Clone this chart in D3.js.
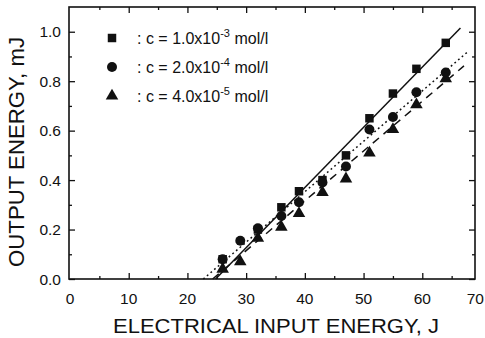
<!DOCTYPE html>
<html>
<head>
<meta charset="utf-8">
<script src="https://cdn.jsdelivr.net/npm/d3@7"></script>
<style>
  body { margin: 0; background: #fff; }
  svg text { font-family: "Liberation Sans", Arial, sans-serif; fill: #111; }
</style>
</head>
<body>
<div id="chart"></div>
<script>
// input energy (J) at which each pulse was measured
const inputEnergy = [26, 29, 32, 36, 39, 43, 47, 51, 55, 59, 64];

// output energy (mJ) for each dye concentration, null = not visible
const conc1e3 = [0.08, null, 0.20, 0.29, 0.355, 0.40, 0.50, 0.65, 0.75, 0.85, 0.955];
const conc2e4 = [0.08, 0.155, 0.205, 0.255, 0.31, 0.39, 0.455, 0.605, 0.655, 0.755, 0.835];
const conc4e5 = [0.04, 0.07, 0.165, 0.21, 0.265, 0.35, 0.405, 0.51, 0.605, 0.705, 0.81];

// linear fits, given as [x, y] end points
const fit1e3 = [[24.8, 0], [66.5, 1.015]];
const fit2e4 = [[22.7, 0], [67.9, 0.922]];
const fit4e5 = [[24.3, 0], [67.1, 0.862]];

const legendLabels = [
  { base: ': c = 1.0x10', exp: '-3', unit: ' mol/l' },
  { base: ': c = 2.0x10', exp: '-4', unit: ' mol/l' },
  { base: ': c = 4.0x10', exp: '-5', unit: ' mol/l' }
];

const xTicks = [0, 10, 20, 30, 40, 50, 60, 70];
const yTicks = [0, 0.2, 0.4, 0.6, 0.8, 1.0];

const width = 485, height = 338;
const margin = { top: 7, right: 10, bottom: 59, left: 69 };

const svg = d3.select('#chart').append('svg')
  .attr('width', width)
  .attr('height', height);

const x = d3.scaleLinear().domain([0, 70]).range([70, 481]);
const y = d3.scaleLinear().domain([0, 1.1]).range([height - margin.bottom, margin.top]);

const x0 = margin.left, x1 = width - margin.right;
const y0 = height - margin.bottom, y1 = margin.top;

// ticks, all pointing inward
function tickAxis(axis, pos, values, size) {
  svg.append('g')
    .attr('transform', pos)
    .call(axis.tickValues(values).tickSize(size).tickFormat(''))
    .call(g => g.select('.domain').remove())
    .call(g => g.selectAll('line').attr('stroke', '#111').attr('stroke-width', 1.3));
}
const xMinor = d3.range(5, 70, 10);
const yMinor = d3.range(0.1, 1.1, 0.2);
const xMajor = xTicks.filter(v => v > 0 && v < 70);

tickAxis(d3.axisTop(x), `translate(0,${y0})`, xMajor, 6);
tickAxis(d3.axisTop(x), `translate(0,${y0})`, xMinor, 3);
tickAxis(d3.axisBottom(x), `translate(0,${y1})`, xMajor, 6);
tickAxis(d3.axisBottom(x), `translate(0,${y1})`, xMinor, 3);
tickAxis(d3.axisRight(y), `translate(${x0},0)`, yTicks, 6);
tickAxis(d3.axisRight(y), `translate(${x0},0)`, yMinor, 3);
tickAxis(d3.axisLeft(y), `translate(${x1},0)`, yTicks, 6);
tickAxis(d3.axisLeft(y), `translate(${x1},0)`, yMinor, 3);

// frame
svg.append('rect')
  .attr('x', x0).attr('y', y1)
  .attr('width', x1 - x0).attr('height', y0 - y1)
  .attr('fill', 'none').attr('stroke', '#111').attr('stroke-width', 1.6);

// tick labels (the last one is pulled in so it stays on the page)
svg.append('g').selectAll('text')
  .data(xTicks)
  .join('text')
  .attr('x', d => d === 70 ? width - 1 : x(d))
  .attr('y', y0 + 25)
  .attr('text-anchor', d => d === 70 ? 'end' : 'middle')
  .attr('font-size', 15.5)
  .text(d => d);

svg.append('g').selectAll('text')
  .data(yTicks)
  .join('text')
  .attr('x', x0 - 8)
  .attr('y', d => y(d) + 5.5)
  .attr('text-anchor', 'end')
  .attr('font-size', 15.5)
  .text(d => d3.format('.1f')(d));

// axis titles
svg.append('text')
  .attr('x', 276)
  .attr('y', 333)
  .attr('text-anchor', 'middle')
  .attr('font-size', 21)
  .attr('textLength', 326)
  .attr('lengthAdjust', 'spacingAndGlyphs')
  .text('ELECTRICAL INPUT ENERGY,  J');

svg.append('text')
  .attr('transform', `translate(24,${152}) rotate(-90)`)
  .attr('text-anchor', 'middle')
  .attr('font-size', 22)
  .attr('textLength', 230)
  .attr('lengthAdjust', 'spacingAndGlyphs')
  .text('OUTPUT ENERGY,  mJ');

// fit lines
const line = d3.line().x(d => x(d[0])).y(d => y(d[1]));
const fits = [
  { pts: fit1e3, dash: null },
  { pts: fit2e4, dash: '1.8,3' },
  { pts: fit4e5, dash: '8,6' }
];
svg.append('g').selectAll('path')
  .data(fits)
  .join('path')
  .attr('d', d => line(d.pts))
  .attr('fill', 'none')
  .attr('stroke', '#111')
  .attr('stroke-width', 1.5)
  .attr('stroke-dasharray', d => d.dash);

// markers
const symbols = [
  d3.symbol(d3.symbolSquare, 72),
  d3.symbol(d3.symbolCircle, 78),
  d3.symbol(d3.symbolTriangle, 68)
];
const series = [conc1e3, conc2e4, conc4e5];

series.forEach((vals, i) => {
  const pts = inputEnergy.map((e, j) => [e, vals[j]]).filter(p => p[1] !== null);
  svg.append('g').selectAll('path')
    .data(pts)
    .join('path')
    .attr('transform', d => `translate(${x(d[0])},${y(d[1])})`)
    .attr('d', symbols[i])
    .attr('fill', '#111');
});

// legend
const legendY = [38, 67, 96];
const legend = svg.append('g');
legendLabels.forEach((lab, i) => {
  legend.append('path')
    .attr('transform', `translate(112,${legendY[i]})`)
    .attr('d', symbols[i])
    .attr('fill', '#111');
  const t = legend.append('text')
    .attr('x', 137)
    .attr('y', legendY[i] + 6)
    .attr('font-size', 16);
  t.append('tspan').text(lab.base);
  t.append('tspan').attr('dy', -7).attr('font-size', 11).text(lab.exp);
  t.append('tspan').attr('dy', 7).text(lab.unit);
});
</script>
</body>
</html>
